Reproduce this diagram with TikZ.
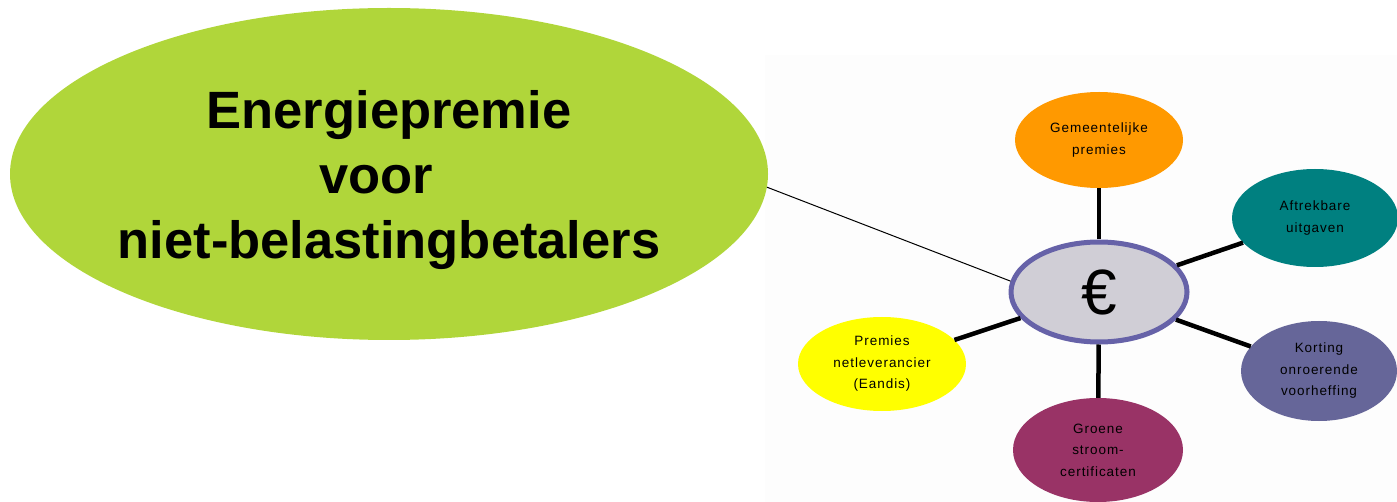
\documentclass[tikz,border=0pt]{standalone}
\usepackage{fontspec}
\setmainfont{Liberation Sans}
\newfontfamily\bubblefont[LetterSpace=7]{Liberation Sans}
\usetikzlibrary{shapes.geometric}
\definecolor{titlegreen}{RGB}{176,214,58}
\definecolor{orangeP}{RGB}{255,153,0}
\definecolor{tealP}{RGB}{0,128,128}
\definecolor{violetP}{RGB}{102,102,153}
\definecolor{plumP}{RGB}{153,51,102}
\definecolor{yellowP}{RGB}{255,255,0}
\definecolor{hubfill}{RGB}{208,206,214}
\definecolor{hubborder}{RGB}{102,98,168}
\definecolor{panel}{RGB}{253,253,253}
\tikzset{
  bubble/.style={ellipse, inner sep=0pt, align=center, font=\bubblefont\fontsize{13.5}{21.5}\selectfont},
  spoke/.style={line width=4.5pt, black},
}
\begin{document}
\begin{tikzpicture}[x=1pt,y=-1pt]
\useasboundingbox (0,0) rectangle (1397,502);
\fill[panel] (765,55) rectangle (1397,502);
% title bubble
\node[ellipse, fill=titlegreen, minimum width=758pt, minimum height=332pt, inner sep=0pt,
      label={[align=center, yshift=-6pt, font=\bfseries\fontsize{52.5}{65}\selectfont]center:Energiepremie\\voor\kern26pt\\niet-belastingbetalers}]
  (title) at (389,174) {};
% hub
\node[ellipse, fill=hubfill, draw=hubborder, line width=5pt, minimum width=176pt,
      minimum height=100pt, inner sep=0pt, font=\fontsize{64}{64}\selectfont] (hub) at (1099,292) {€};
% satellites
\node[bubble, fill=orangeP, minimum width=168pt, minimum height=96pt] (gem) at (1099,140)
  {Gemeentelijke\\premies};
\node[bubble, fill=tealP, minimum width=166pt, minimum height=98pt] (aft) at (1315,218)
  {Aftrekbare\\uitgaven};
\node[bubble, fill=violetP, minimum width=156pt, minimum height=100pt] (kort) at (1319,371)
  {Korting\\onroerende\\voorheffing};
\node[bubble, fill=plumP, minimum width=170pt, minimum height=104pt] (groen) at (1098,450)
  {Groene\\stroom-\\certificaten};
\node[bubble, fill=yellowP, minimum width=168pt, minimum height=94pt] (prem) at (882,364)
  {Premies\\netleverancier\\(Eandis)};
% spokes
\draw[spoke] (hub) -- (gem);
\draw[spoke] (hub) -- (aft);
\draw[spoke] (hub) -- (kort);
\draw[spoke] (hub) -- (groen);
\draw[spoke] (hub) -- (prem);
% thin connector
\draw[black, line width=1pt] (title.-2.3) -- (hub.173);
\end{tikzpicture}
\end{document}
